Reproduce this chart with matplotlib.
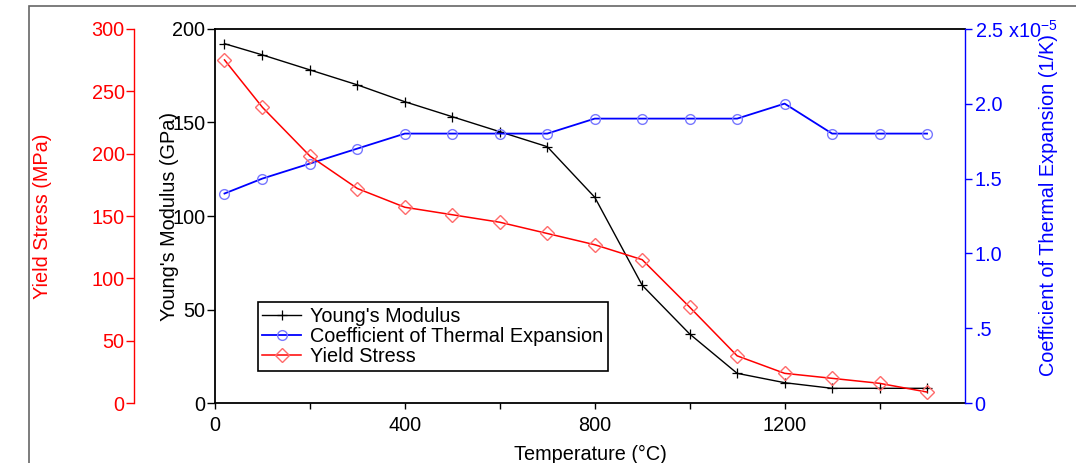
import matplotlib
matplotlib.use("Agg")
import matplotlib.pyplot as plt
from matplotlib.patches import Rectangle

plt.rcParams['font.family'] = ['Liberation Sans', 'DejaVu Sans']
plt.rcParams['font.size'] = 14.3

temperature = [20, 100, 200, 300, 400, 500, 600, 700, 800, 900, 1000, 1100, 1200, 1300, 1400, 1500]
youngs_modulus = [192, 186, 178, 170, 161, 153, 145, 137, 110, 63, 37, 16, 11, 8, 8, 8]
cte = [1.4, 1.5, 1.6, 1.7, 1.8, 1.8, 1.8, 1.8, 1.9, 1.9, 1.9, 1.9, 2.0, 1.8, 1.8, 1.8]  # x1e-5 1/K
yield_stress = [275, 237, 198, 172, 157, 151, 145, 136, 127, 115, 77, 38, 24, 20, 16, 9]

cte_ticks = [0, 0.5, 1.0, 1.5, 2.0, 2.5]
cte_labels = ['0', '.5', '1.0', '1.5', '2.0', '2.5 x10$^{\\mathregular{-5}}$']

fig = plt.figure(figsize=(10.76, 4.63), dpi=100)
ax = fig.add_axes([215 / 1076, 1 - 403.3 / 463, 750 / 1076, 374.6 / 463])
ax2 = ax.twinx()
ax3 = ax.twinx()

# grey frame around the whole figure, cut off at right/bottom like the original
fig.patches.append(Rectangle((29.3 / 1076, -0.1), 1.2, 1.1 - 6 / 463, transform=fig.transFigure,
                             fill=False, edgecolor='#666666', linewidth=1.2))

l1, = ax.plot(temperature, youngs_modulus, color='black', lw=1.0, marker='+',
              ms=6.5, mew=0.9, label="Young's Modulus")
l2, = ax2.plot(temperature, cte, color='blue', lw=1.3, marker='o', ms=7,
               mfc='none', mec='#7878ff', mew=1.0, label='Coefficient of Thermal Expansion')
l3, = ax3.plot(temperature, yield_stress, color='red', lw=1.1, marker='D', ms=7,
               mfc='none', mec='#ff6a6a', mew=1.0, label='Yield Stress')

ax.set_xlim(0, 1580)
ax.set_ylim(0, 200)
ax.set_xticks([0, 400, 800, 1200])
ax.set_xticks([200, 600, 1000, 1400], minor=True)
ax.set_yticks([0, 50, 100, 150, 200])
ax.tick_params(axis='x', which='both', direction='out', length=4, width=1, pad=5)
ax.tick_params(axis='y', direction='out', length=6, width=1, pad=1)
ax.set_xlabel('Temperature (°C)', labelpad=7)
ax.set_ylabel("Young's Modulus (GPa)")
ax.yaxis.set_label_coords((179 - 215) / 750, 0.5)
for s in ['left', 'bottom', 'top']:
    ax.spines[s].set_linewidth(1.3)
ax.spines['right'].set_visible(False)

ax2.set_ylim(0, 2.5)
ax2.set_yticks(cte_ticks)
ax2.set_yticklabels(cte_labels)
ax2.tick_params(axis='y', colors='blue', direction='out', length=5, width=1, pad=2)
ax2.spines['right'].set_color('blue')
ax2.spines['right'].set_linewidth(1.0)
for s in ['left', 'top', 'bottom']:
    ax2.spines[s].set_visible(False)
ax2.set_ylabel('Coefficient of Thermal Expansion (1/K)', color='blue')
ax2.yaxis.set_label_coords((1039 - 215) / 750, 0.529)

ax3.set_ylim(0, 300)
ax3.set_yticks([0, 50, 100, 150, 200, 250, 300])
ax3.yaxis.set_ticks_position('left')
ax3.yaxis.set_label_position('left')
ax3.spines['left'].set_position(('axes', (134.3 - 215) / 750))
ax3.spines['left'].set_color('red')
ax3.spines['left'].set_linewidth(1.0)
for s in ['right', 'top', 'bottom']:
    ax3.spines[s].set_visible(False)
ax3.tick_params(axis='y', colors='red', direction='out', length=6, width=1, pad=1)
ax3.set_ylabel('Yield Stress (MPa)', color='red')
ax3.yaxis.set_label_coords((52 - 215) / 750, 0.5)

leg = ax3.legend(handles=[l1, l2, l3], loc='lower left',
                 bbox_to_anchor=((257.5 - 215) / 750, (403.3 - 370.7) / 374.6),
                 borderaxespad=0, fancybox=False, edgecolor='black', framealpha=1,
                 handlelength=1.95, handletextpad=0.45, labelspacing=0.05, borderpad=0.25)
leg.get_frame().set_linewidth(1.2)

fig.savefig('out.png', dpi=100)
